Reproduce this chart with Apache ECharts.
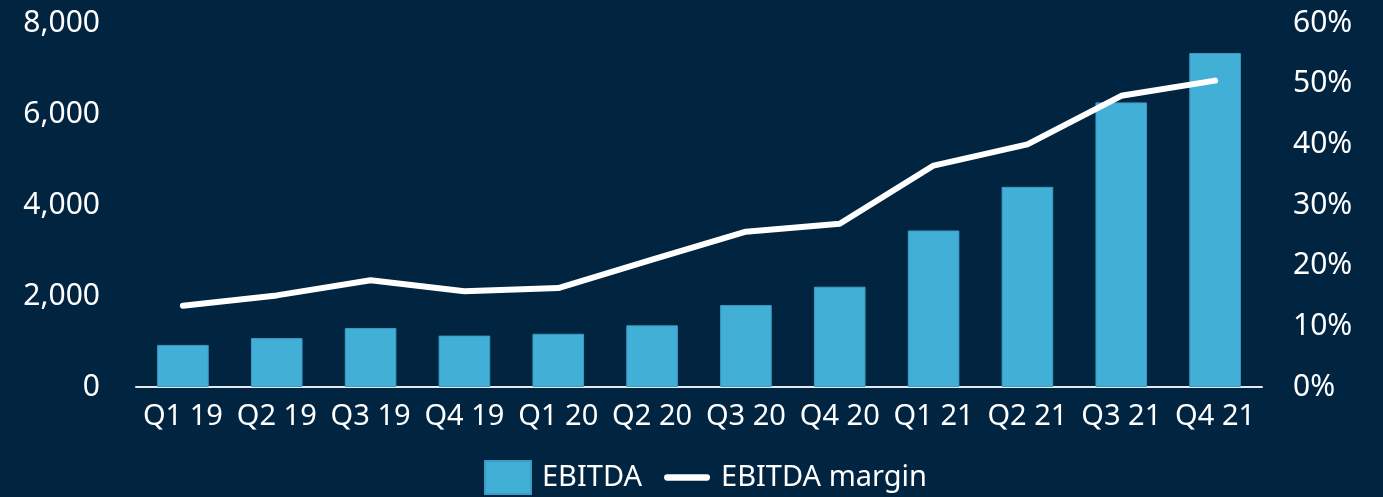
<!DOCTYPE html>
<html>
<head>
<meta charset="utf-8">
<script src="https://cdn.jsdelivr.net/npm/echarts@6/dist/echarts.min.js"></script>
<style>
  html, body { margin: 0; padding: 0; background: #012440; }
  #chart { width: 1383px; height: 497px; }
</style>
</head>
<body>
<div id="chart"></div>
<script>
const quarters = ["Q1 19", "Q2 19", "Q3 19", "Q4 19", "Q1 20", "Q2 20", "Q3 20", "Q4 20", "Q1 21", "Q2 21", "Q3 21", "Q4 21"];
const ebitda = [925, 1075, 1295, 1130, 1170, 1355, 1800, 2205, 3440, 4400, 6255, 7340];
const ebitdaMargin = [13.4, 15.1, 17.6, 15.8, 16.3, 21.0, 25.6, 26.9, 36.5, 40.0, 48.0, 50.5];

const font = "Noto Sans";
const chart = echarts.init(document.getElementById("chart"));

chart.setOption({
  backgroundColor: "#012440",
  animation: false,
  textStyle: { fontFamily: font },
  grid: { left: 136, right: 121, top: 23, bottom: 110, containLabel: false },
  legend: {
    left: 479,
    top: 455,
    itemWidth: 46,
    itemHeight: 33,
    itemGap: 22,
    textStyle: { color: "#ffffff", fontSize: 29, fontFamily: font, padding: [0, 0, 0, 6] },
    data: [
      { name: "EBITDA", icon: "rect" },
      {
        name: "EBITDA margin",
        icon: "path://M3,0 H41 A3,3 0 0 1 41,6 H3 A3,3 0 0 1 3,0 Z",
        itemStyle: { color: "#ffffff" }
      }
    ]
  },
  xAxis: {
    type: "category",
    data: quarters,
    axisLine: { lineStyle: { color: "#e6e9ee", width: 2 } },
    axisTick: { show: false },
    axisLabel: { color: "#ffffff", fontSize: 29, margin: 15, interval: 0 }
  },
  yAxis: [
    {
      type: "value",
      min: 0,
      max: 8000,
      interval: 2000,
      splitLine: { show: false },
      axisLine: { show: false },
      axisLabel: {
        color: "#ffffff",
        fontSize: 30,
        margin: 36,
        formatter: v => v.toLocaleString("en-US")
      }
    },
    {
      type: "value",
      min: 0,
      max: 60,
      interval: 10,
      splitLine: { show: false },
      axisLine: { show: false },
      axisLabel: { color: "#ffffff", fontSize: 30, margin: 31, formatter: "{value}%" }
    }
  ],
  series: [
    {
      name: "EBITDA",
      type: "bar",
      data: ebitda,
      barWidth: "55%",
      itemStyle: { color: "#42afd6", borderColor: "#3a9cc4", borderWidth: 1 }
    },
    {
      name: "EBITDA margin",
      type: "line",
      yAxisIndex: 1,
      data: ebitdaMargin,
      symbol: "none",
      itemStyle: { color: "#ffffff" },
      lineStyle: { color: "#ffffff", width: 6, cap: "round", join: "round" }
    }
  ]
});
</script>
</body>
</html>
